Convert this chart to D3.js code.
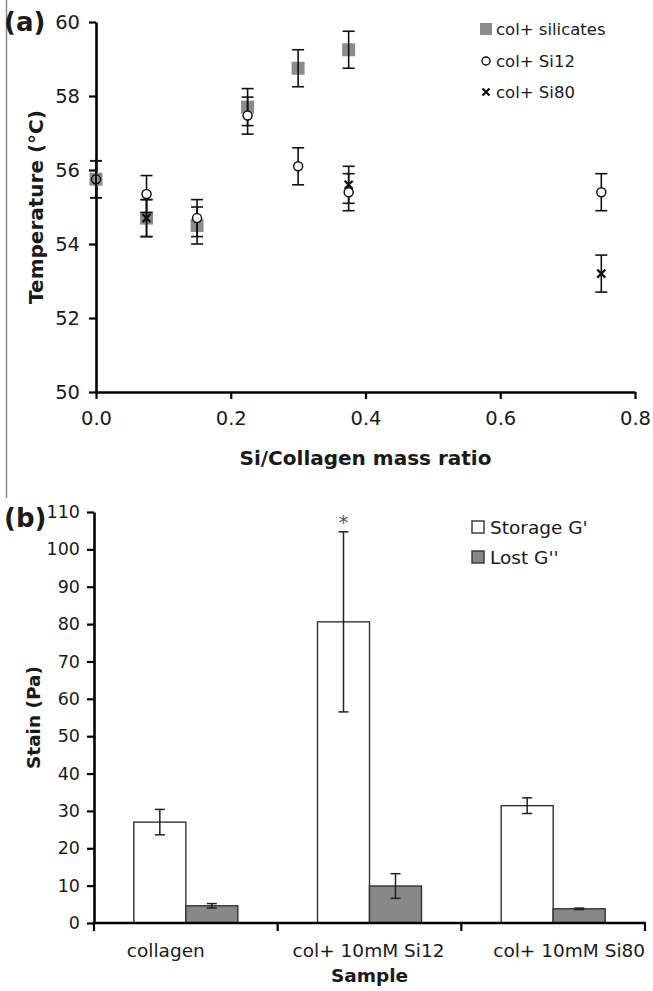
<!DOCTYPE html>
<html><head><meta charset="utf-8">
<script src="https://cdn.jsdelivr.net/npm/d3@7"></script>
<style>
body{margin:0;background:#fff;}
svg text{font-family:"DejaVu Sans",Verdana,sans-serif;fill:#1a1a1a;}
</style></head>
<body>
<script>
// ---------- Panel (a) data ----------
const silicatesX = [0, 0.075, 0.15, 0.225, 0.3, 0.375];
const silicatesY = [55.75, 54.7, 54.5, 57.7, 58.75, 59.25];
const silicatesErr = [0.5, 0.5, 0.5, 0.5, 0.5, 0.5];
const si12X = [0, 0.075, 0.15, 0.225, 0.3, 0.375, 0.75];
const si12Y = [55.75, 55.35, 54.7, 57.47, 56.1, 55.4, 55.4];
const si12Err = [0.5, 0.5, 0.5, 0.5, 0.5, 0.5, 0.5];
const si80X = [0.075, 0.375, 0.75];
const si80Y = [54.7, 55.6, 53.2];
const si80Err = [0.5, 0.5, 0.5];
const legendA = ["col+ silicates", "col+ Si12", "col+ Si80"];
const xTicksA = [0, 0.2, 0.4, 0.6, 0.8];
const yTicksA = [50, 52, 54, 56, 58, 60];

// ---------- Panel (b) data ----------
const samples = ["collagen", "col+ 10mM Si12", "col+ 10mM Si80"];
const seriesB = ["Storage G'", "Lost G''"];
const storage = [27.0, 80.6, 31.4];
const storageErr = [3.4, 24.1, 2.1];
const lost = [4.6, 9.9, 3.8];
const lostErr = [0.6, 3.3, 0.2];
const yTicksB = [0, 10, 20, 30, 40, 50, 60, 70, 80, 90, 100, 110];

const W = 653, H = 991;
const svg = d3.select("body").append("svg").attr("width", W).attr("height", H);

// left gray line
svg.append("line").attr("x1", 6.5).attr("x2", 6.5).attr("y1", 0).attr("y2", 498)
  .attr("stroke", "#8a8a8a").attr("stroke-width", 1.5);

const GRAY = "#8c8c8c";

// ================= Panel (a) =================
const xA = d3.scaleLinear().domain([0, 0.8]).range([96, 635]);
const yA = d3.scaleLinear().domain([50, 60]).range([392, 22]);

const gA = svg.append("g");
const axA_x = gA.append("g").attr("transform", `translate(0,${yA(50)})`)
  .call(d3.axisBottom(xA).tickValues(xTicksA).tickFormat(d3.format(".1f")).tickSizeInner(7).tickSizeOuter(0).tickPadding(12));
const axA_y = gA.append("g").attr("transform", `translate(${xA(0)},0)`)
  .call(d3.axisLeft(yA).tickValues(yTicksA).tickSizeInner(7).tickSizeOuter(0).tickPadding(9));
[axA_x, axA_y].forEach(a => {
  a.select(".domain").attr("stroke", "#000").attr("stroke-width", 2.6);
  a.selectAll(".tick line").attr("stroke", "#000").attr("stroke-width", 2.2);
  a.selectAll(".tick text").style("font-size", "19.5px").attr("fill", "#1a1a1a");
});

gA.append("text").attr("x", (xA(0) + xA(0.8)) / 2).attr("y", 465).attr("text-anchor", "middle")
  .style("font-size", "20px").style("font-weight", "bold").text("Si/Collagen mass ratio");
gA.append("text").attr("transform", `translate(43,${(yA(50) + yA(60)) / 2}) rotate(-90)`)
  .attr("text-anchor", "middle").style("font-size", "20px").style("font-weight", "bold").text("Temperature (°C)");
gA.append("text").attr("x", 4).attr("y", 31).style("font-size", "26px").style("font-weight", "bold").text("(a)");

function errBars(g, xs, ys, es, scX, scY) {
  const cap = 6;
  xs.forEach((x, i) => {
    const cx = scX(x), y1 = scY(ys[i] + es[i]), y2 = scY(ys[i] - es[i]);
    g.append("line").attr("x1", cx).attr("x2", cx).attr("y1", y1).attr("y2", y2).attr("stroke", "#111").attr("stroke-width", 1.6);
    g.append("line").attr("x1", cx - cap).attr("x2", cx + cap).attr("y1", y1).attr("y2", y1).attr("stroke", "#111").attr("stroke-width", 1.6);
    g.append("line").attr("x1", cx - cap).attr("x2", cx + cap).attr("y1", y2).attr("y2", y2).attr("stroke", "#111").attr("stroke-width", 1.6);
  });
}
const marks = gA.append("g");
silicatesX.forEach((x, i) => {
  marks.append("rect").attr("x", xA(x) - 6.5).attr("y", yA(silicatesY[i]) - 6.5).attr("width", 13).attr("height", 13).attr("fill", GRAY);
});
errBars(marks, silicatesX, silicatesY, silicatesErr, xA, yA);
errBars(marks, si12X, si12Y, si12Err, xA, yA);
errBars(marks, si80X, si80Y, si80Err, xA, yA);
si12X.forEach((x, i) => {
  marks.append("circle").attr("cx", xA(x)).attr("cy", yA(si12Y[i])).attr("r", 4.5)
    .attr("fill", x === 0 ? "none" : "#fff").attr("stroke", "#111").attr("stroke-width", 1.5);
});
function xMark(g, cx, cy, s) {
  g.append("path").attr("d", `M${cx - s},${cy - s}L${cx + s},${cy + s}M${cx - s},${cy + s}L${cx + s},${cy - s}`)
    .attr("stroke", "#111").attr("stroke-width", 2.2);
}
si80X.forEach((x, i) => xMark(marks, xA(x), yA(si80Y[i]), 4));

// legend a
const lgA = gA.append("g");
const lgAy = [29, 61, 92];
lgA.append("rect").attr("x", 480).attr("y", lgAy[0] - 6).attr("width", 12).attr("height", 12).attr("fill", GRAY);
lgA.append("circle").attr("cx", 486).attr("cy", lgAy[1]).attr("r", 4).attr("fill", "#fff").attr("stroke", "#111").attr("stroke-width", 1.5);
xMark(lgA, 486, lgAy[2], 3.5);
legendA.forEach((t, i) => lgA.append("text").attr("x", 496).attr("y", lgAy[i]).attr("dy", "0.36em").style("font-size", "16.5px").text(t));

// ================= Panel (b) =================
const yB = d3.scaleLinear().domain([0, 110]).range([923, 512]);
const xB = d3.scaleBand().domain(samples).range([94, 645]).paddingInner(0).paddingOuter(0);
const groupW = 104;
const xB1 = d3.scaleBand().domain(seriesB).range([(xB.bandwidth() - groupW) / 2, (xB.bandwidth() + groupW) / 2]).padding(0);

const gB = svg.append("g");
const fills = ["#ffffff", "#888888"];
const vals = [storage, lost], errs = [storageErr, lostErr];
seriesB.forEach((s, si) => {
  samples.forEach((c, ci) => {
    const x = xB(c) + xB1(s), v = vals[si][ci];
    gB.append("rect").attr("x", x).attr("y", yB(v)).attr("width", xB1.bandwidth()).attr("height", yB(0) - yB(v))
      .attr("fill", fills[si]).attr("stroke", "#333").attr("stroke-width", 1.4);
  });
});
seriesB.forEach((s, si) => {
  samples.forEach((c, ci) => {
    const cx = xB(c) + xB1(s) + xB1.bandwidth() / 2, v = vals[si][ci], e = errs[si][ci];
    const y1 = yB(v + e), y2 = yB(v - e), cap = 5;
    gB.append("line").attr("x1", cx).attr("x2", cx).attr("y1", y1).attr("y2", y2).attr("stroke", "#222").attr("stroke-width", 1.5);
    gB.append("line").attr("x1", cx - cap).attr("x2", cx + cap).attr("y1", y1).attr("y2", y1).attr("stroke", "#222").attr("stroke-width", 1.5);
    gB.append("line").attr("x1", cx - cap).attr("x2", cx + cap).attr("y1", y2).attr("y2", y2).attr("stroke", "#222").attr("stroke-width", 1.5);
  });
});
gB.append("text").attr("x", xB(samples[1]) + xB1(seriesB[0]) + xB1.bandwidth() / 2).attr("y", yB(storage[1] + storageErr[1]) - 3)
  .attr("text-anchor", "middle").style("font-size", "20px").style("fill", "#555").text("*");

const axB_y = gB.append("g").attr("transform", `translate(94,0)`)
  .call(d3.axisLeft(yB).tickValues(yTicksB).tickSizeInner(7).tickSizeOuter(0).tickPadding(7));
axB_y.select(".domain").attr("stroke", "#000").attr("stroke-width", 2.6);
axB_y.selectAll(".tick line").attr("stroke", "#000").attr("stroke-width", 2.2);
axB_y.selectAll(".tick text").style("font-size", "17.5px").attr("fill", "#1a1a1a");

gB.append("line").attr("x1", 93).attr("x2", 646).attr("y1", yB(0)).attr("y2", yB(0)).attr("stroke", "#000").attr("stroke-width", 2.6);
const bounds = [xB(samples[0])].concat(samples.map(c => xB(c) + xB.bandwidth()));
bounds.forEach(b => gB.append("line").attr("x1", b).attr("x2", b).attr("y1", yB(0)).attr("y2", yB(0) + 8).attr("stroke", "#000").attr("stroke-width", 2.2));
const labelShift = [-20, -1, 16];
samples.forEach((c, i) => gB.append("text").attr("x", xB(c) + xB.bandwidth() / 2 + labelShift[i]).attr("y", 951).attr("dy", "0.35em")
  .attr("text-anchor", "middle").style("font-size", "18.5px").text(c));

gB.append("text").attr("x", (94 + 645) / 2).attr("y", 982).attr("text-anchor", "middle")
  .style("font-size", "18.5px").style("font-weight", "bold").text("Sample");
gB.append("text").attr("transform", `translate(40,${(yB(0) + yB(110)) / 2}) rotate(-90)`)
  .attr("text-anchor", "middle").style("font-size", "18.5px").style("font-weight", "bold").text("Stain (Pa)");
gB.append("text").attr("x", 4).attr("y", 527).style("font-size", "26px").style("font-weight", "bold").text("(b)");

const lgBy = [527, 557];
seriesB.forEach((s, i) => {
  gB.append("rect").attr("x", 472).attr("y", lgBy[i] - 6).attr("width", 12).attr("height", 12)
    .attr("fill", fills[i]).attr("stroke", "#333").attr("stroke-width", 1.4);
  gB.append("text").attr("x", 490).attr("y", lgBy[i]).attr("dy", "0.36em").style("font-size", "18.5px").text(s);
});
</script>
</body></html>
